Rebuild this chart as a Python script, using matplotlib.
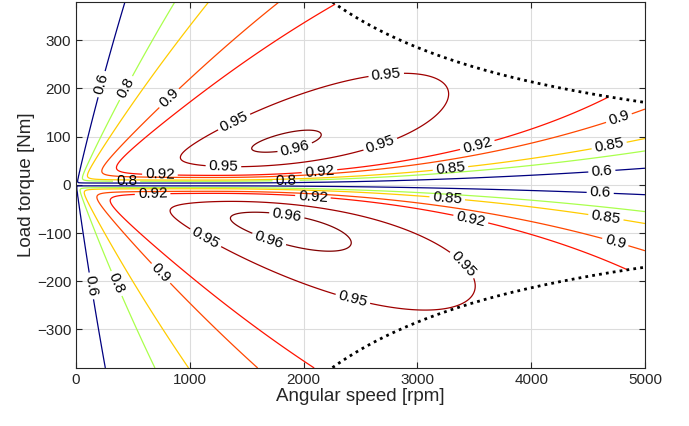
import numpy as np
import matplotlib
matplotlib.use("Agg")
import matplotlib.pyplot as plt
from matplotlib import colors

plt.rcParams['font.family'] = ['Liberation Sans', 'DejaVu Sans']

# ---- chart values ----
levels = [0.6, 0.8, 0.85, 0.9, 0.92, 0.95, 0.96]
speed_range = [0, 5000]          # rpm
torque_range = [-380, 380]       # Nm
x_ticks = [0, 1000, 2000, 3000, 4000, 5000]
y_ticks = [-300, -200, -100, 0, 100, 200, 300]

# loss model of the machine
copper_a0 = 0.041      # W/Nm^2
copper_a1 = 1.6e-5     # W/Nm^3
speed_b = 0.15         # W/rpm
hs_speed = 1000        # rpm, start of extra high-speed losses
hs_c = 1.0e-7          # W/rpm^p
hs_p = 3.0
max_power = 89.5e3     # W  (constant power limit, dotted)

# ---- field ----
n = np.linspace(1, speed_range[1], 700)
T = np.linspace(torque_range[0], torque_range[1], 760)
N, TT = np.meshgrid(n, T)
w = N * 2 * np.pi / 60
P = np.abs(TT) * w
loss = ((copper_a0 + copper_a1 * np.abs(TT)) * TT ** 2 + speed_b * N
        + hs_c * np.clip(N - hs_speed, 0, None) ** hs_p)
eta = np.where(TT > 0, 1 - loss / P, P / (P + loss))
tlim = max_power / w
eta = np.ma.masked_where(np.abs(TT) > tlim, eta)

fig = plt.figure(figsize=(6.89, 4.26), dpi=100)
ax = fig.add_axes([0.1103, 0.1362, 0.8258, 0.8600])
ax.set_xlim(speed_range)
ax.set_ylim(torque_range)

norm = colors.Normalize(vmin=min(levels), vmax=max(levels))
cmap = plt.get_cmap('jet')
line_colors = [cmap(norm(v)) for v in levels]
label_kw = dict(fmt='%g', fontsize=11, colors='k')


def draw_contours():
    return ax.contour(N, TT, eta, levels=levels, colors=line_colors, linewidths=0.9)


# ---- label positions spaced along every line (MATLAB-like) ----
near_px, away_px, spacing_px = 45, 100, 160
cs_tmp = draw_contours()
zero_y = ax.transData.transform((0, 0))[1]
cand = []
for lev_segs in cs_tmp.allsegs:
    for seg in lev_segs:
        if len(seg) < 2:
            continue
        disp = ax.transData.transform(seg)
        d = np.r_[0, np.cumsum(np.hypot(*np.diff(disp, axis=0).T))]
        total = d[-1]
        if total < 40:
            continue
        i0 = int(np.argmin(disp[:, 0]))
        s0 = d[i0]
        closed = np.hypot(*(disp[0] - disp[-1])) < 2
        targets = []
        if closed:
            s = near_px
            while s < total - 20:
                targets.append((s0 + s) % total)
                s += spacing_px
        else:
            y0 = abs(disp[i0, 1] - zero_y)
            for direc in (1, -1):
                probe = s0 + direc * 30
                if probe < 0 or probe > total:
                    continue
                j = min(int(np.searchsorted(d, probe)), len(seg) - 1)
                away = abs(disp[j, 1] - zero_y) > y0 + 10
                s = s0 + direc * (away_px if away else near_px)
                while 15 < s < total - 15:
                    targets.append(s)
                    s += direc * spacing_px
            if not targets:
                targets.append(total / 2)
        for t in targets:
            i = min(int(np.searchsorted(d, t)), len(seg) - 1)
            cand.append((seg[i, 0], seg[i, 1], abs(disp[i, 1] - zero_y)))

# keep labels that do not overlap (far-from-zero labels first)
cand.sort(key=lambda c: -c[2])
renderer = fig.canvas.get_renderer()
inside = ax.get_window_extent(renderer)
cs_tmp.clabel(manual=[], inline=False, **label_kw)
kept_boxes, kept_pts = [], []
for x, y, _ in cand:
    cs_tmp.add_label_near(x, y, inline=False, transform=None)
    txt = cs_tmp.labelTexts[-1]
    bb = txt.get_window_extent(renderer)
    ok = (bb.x0 >= inside.x0 - 2 and bb.x1 <= inside.x1 + 2 and
          bb.y0 >= inside.y0 - 2 and bb.y1 <= inside.y1 + 2)
    if ok and not any(bb.overlaps(b) for b in kept_boxes):
        kept_boxes.append(bb)
        kept_pts.append((x, y))
    txt.set_visible(False)
cs_tmp.remove()

cs = draw_contours()
cs.clabel(manual=kept_pts, inline=True, inline_spacing=3, **label_kw)

# power limit (dotted)
nl = n[max_power / (n * 2 * np.pi / 60) <= torque_range[1]]
tl = max_power / (nl * 2 * np.pi / 60)
ax.plot(nl, tl, color='k', linestyle=(0, (1, 1.5)), linewidth=2)
ax.plot(nl, -tl, color='k', linestyle=(0, (1, 1.5)), linewidth=2)

ax.set_xticks(x_ticks)
ax.set_yticks(y_ticks)
ax.grid(True, color='#dcdcdc', linewidth=0.8)
ax.set_axisbelow(True)
ax.tick_params(direction='in', top=True, right=True, labelsize=11, colors='#262626', length=4)
for s in ax.spines.values():
    s.set_color('#262626')
    s.set_linewidth(0.8)
ax.set_xlabel('Angular speed [rpm]', fontsize=13.5, color='#262626', labelpad=1)
ax.set_ylabel('Load torque [Nm]', fontsize=13.5, color='#262626', labelpad=1)

fig.savefig('out.png', dpi=100)
